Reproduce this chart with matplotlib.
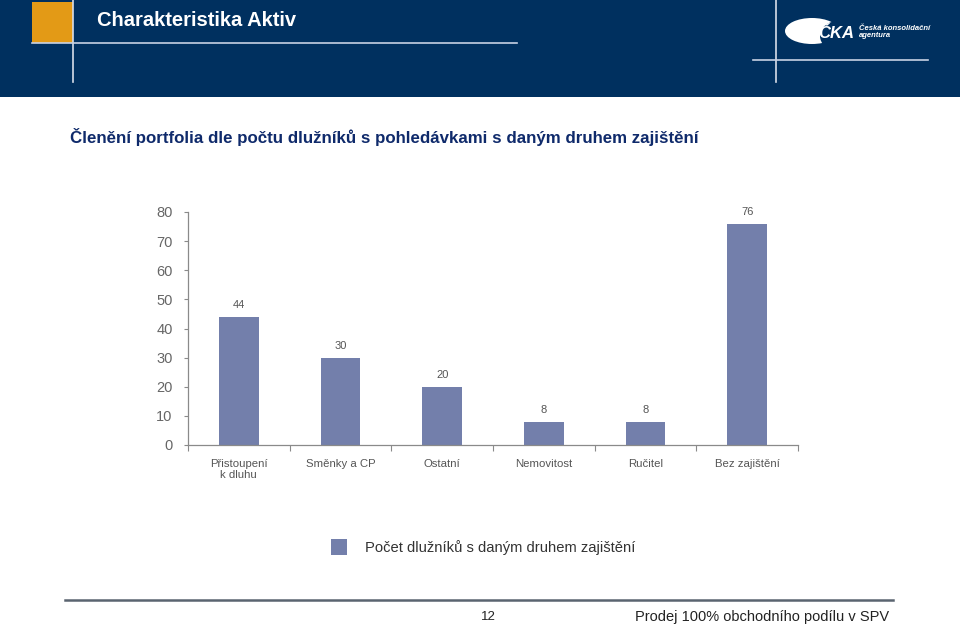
import matplotlib
matplotlib.use("Agg")
import matplotlib.pyplot as plt
from matplotlib.patches import Rectangle, Ellipse
from matplotlib.lines import Line2D

categories = ["Přistoupení\nk dluhu", "Směnky a CP", "Ostatní", "Nemovitost", "Ručitel", "Bez zajištění"]
values = [44, 30, 20, 8, 8, 76]
yticks = [0, 10, 20, 30, 40, 50, 60, 70, 80]
legend_label = "Počet dlužníků s daným druhem zajištění"
header_title = "Charakteristika Aktiv"
subtitle = "Členění portfolia dle počtu dlužníků s pohledávkami s daným druhem zajištění"
page_number = "12"
footer_text = "Prodej 100% obchodního podílu v SPV"

W, H = 960, 627
plt.rcParams['font.family'] = ['Liberation Sans', 'DejaVu Sans']
fig = plt.figure(figsize=(W / 100, H / 100), dpi=100)
fig.patch.set_facecolor("white")

def fx(x):
    return x / W

def fy(y):
    return 1 - y / H

NAVY = "#00305F"
BAR = "#737FAB"
GRAY = "#8A8A8A"

# Header band
fig.patches.append(Rectangle((0, fy(97)), 1, 97 / H, transform=fig.transFigure,
                             facecolor=NAVY, edgecolor="none", zorder=0))
fig.patches.append(Rectangle((fx(32), fy(43)), 41 / W, 41 / H, transform=fig.transFigure,
                             facecolor="#E39A16", edgecolor="none", zorder=1))
fig.lines.append(Line2D([fx(73), fx(73)], [fy(0), fy(82)], transform=fig.transFigure,
                        color="#D8DDE8", lw=1.2, zorder=2))
fig.lines.append(Line2D([fx(32), fx(517)], [fy(43), fy(43)], transform=fig.transFigure,
                        color="#C8D2E4", lw=1.2, zorder=2))
fig.lines.append(Line2D([fx(776), fx(776)], [fy(0), fy(82)], transform=fig.transFigure,
                        color="#D8DDE8", lw=1.2, zorder=2))
fig.lines.append(Line2D([fx(753), fx(928)], [fy(60), fy(60)], transform=fig.transFigure,
                        color="#C8D2E4", lw=1.2, zorder=2))
fig.text(fx(97), fy(20), header_title, color="white", fontsize=14.5, fontweight="bold",
         ha="left", va="center")

# Logo
fig.patches.append(Ellipse((fx(812), fy(31)), 54 / W, 26 / H, angle=0, transform=fig.transFigure,
                           facecolor="white", edgecolor="none", zorder=2))
fig.patches.append(Ellipse((fx(838), fy(36)), 36 / W, 30 / H, transform=fig.transFigure,
                           facecolor=NAVY, edgecolor="none", zorder=3))
fig.text(fx(818), fy(34), "ČKA", color="white", fontsize=12, fontweight="bold",
         fontstyle="italic", ha="left", va="center", zorder=4)
fig.text(fx(859), fy(32), "Česká konsolidační\nagentura", color="white", fontsize=5.5,
         fontweight="bold", fontstyle="italic", ha="left", va="center", linespacing=0.95)

# Subtitle
fig.text(fx(70), fy(137), subtitle, color="#0F2A6B", fontsize=12.2, fontweight="bold",
         ha="left", va="center")

# Chart axes
ax = fig.add_axes([fx(188), fy(445), 610 / W, 233 / H])
x = list(range(len(categories)))
ax.bar(x, values, width=0.39, color=BAR, zorder=2)
ax.set_xlim(-0.5, len(categories) - 0.5)
ax.set_ylim(0, 80)
for xi, v in zip(x, values):
    ax.annotate(str(v), (xi, v), xytext=(0, 5), textcoords="offset points",
                ha="center", va="bottom", fontsize=8, color="#555555")
for s in ["top", "right"]:
    ax.spines[s].set_visible(False)
for s in ["left", "bottom"]:
    ax.spines[s].set_color(GRAY)
    ax.spines[s].set_linewidth(0.9)
ax.set_yticks(yticks)
ax.set_yticklabels([str(t) for t in yticks], fontsize=10.5, color="#666666")
ax.tick_params(axis="y", length=3, color=GRAY, pad=8)
ax.set_xticks([i - 0.5 for i in range(len(categories) + 1)], minor=False)
ax.set_xticklabels([""] * (len(categories) + 1))
ax.tick_params(axis="x", which="major", length=4, color=GRAY, direction="out")
ax.set_xticks(x, minor=True)
ax.set_xticklabels(categories, minor=True, fontsize=8.2, color="#555555", linespacing=1.2)
ax.tick_params(axis="x", which="minor", length=0, pad=10)
ax.set_facecolor("none")

# Legend
fig.patches.append(Rectangle((fx(331), fy(555)), 16 / W, 16 / H, transform=fig.transFigure,
                             facecolor=BAR, edgecolor="none"))
fig.text(fx(365), fy(548), legend_label, fontsize=10.6, color="#333333", ha="left", va="center")

# Footer
fig.lines.append(Line2D([fx(65), fx(893)], [fy(600), fy(600)], transform=fig.transFigure,
                        color="#5A6470", lw=1.8))
fig.text(fx(488), fy(617), page_number, fontsize=9.5, color="#222222", ha="center", va="center")
fig.text(fx(889), fy(617), footer_text, fontsize=10.5, color="#222222", ha="right", va="center")

fig.savefig("out.png", dpi=100)
